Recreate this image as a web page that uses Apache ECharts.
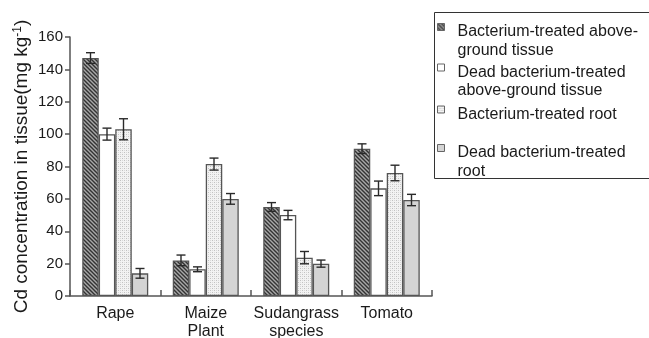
<!DOCTYPE html>
<html>
<head>
<meta charset="utf-8">
<script src="https://cdn.jsdelivr.net/npm/echarts@6/dist/echarts.min.js"></script>
<style>
html,body{margin:0;padding:0;background:#fff;}
#chart{width:649px;height:338px;}
</style>
</head>
<body>
<div id="chart"></div>
<script>
// ---- data ----
var categories = ['Rape', 'Maize\nPlant', 'Sudangrass\nspecies', 'Tomato'];
var seriesNames = [
  'Bacterium-treated above-ground tissue',
  'Dead bacterium-treated above-ground tissue',
  'Bacterium-treated root',
  'Dead bacterium-treated root'
];
var legendLines = [
  ['Bacterium-treated above-', 'ground tissue'],
  ['Dead bacterium-treated', 'above-ground tissue'],
  ['Bacterium-treated root'],
  ['Dead bacterium-treated', 'root']
];
var bactAbove = [147, 22, 55, 91];
var deadAbove = [100, 16.5, 50, 66.5];
var bactRoot = [103, 81.5, 23.7, 76];
var deadRoot = [14, 60, 20, 59.3];
var errBactAbove = [3.3, 3.3, 2.7, 3];
var errDeadAbove = [3.7, 1.5, 2.9, 4.5];
var errBactRoot = [6.5, 3.7, 3.8, 4.8];
var errDeadRoot = [3, 3.3, 2.2, 3.5];
var yTicks = [0, 20, 40, 60, 80, 100, 120, 140, 160];

var FONT = 'Liberation Sans, Arial, sans-serif';

// ---- patterns ----
function hatchPattern() {
  var c = document.createElement('canvas');
  c.width = 4; c.height = 4;
  var g = c.getContext('2d');
  g.fillStyle = '#a8a8a8'; g.fillRect(0, 0, 4, 4);
  g.strokeStyle = '#333'; g.lineWidth = 1.4;
  g.beginPath();
  g.moveTo(-1, -1); g.lineTo(5, 5);
  g.moveTo(-1, 3); g.lineTo(1, 5);
  g.moveTo(3, -1); g.lineTo(5, 1);
  g.stroke();
  return c;
}
function dotPattern() {
  var c = document.createElement('canvas');
  c.width = 4; c.height = 4;
  var g = c.getContext('2d');
  g.fillStyle = '#f3f3f3'; g.fillRect(0, 0, 4, 4);
  g.fillStyle = '#c2c2c2';
  g.fillRect(0, 0, 1, 1); g.fillRect(2, 2, 1, 1);
  g.fillStyle = '#dadada';
  g.fillRect(2, 0, 1, 1); g.fillRect(0, 2, 1, 1);
  return c;
}
var fills = [
  {image: hatchPattern(), repeat: 'repeat'},
  '#ffffff',
  {image: dotPattern(), repeat: 'repeat'},
  '#d4d4d4'
];
var values = [bactAbove, deadAbove, bactRoot, deadRoot];
var errors = [errBactAbove, errDeadAbove, errBactRoot, errDeadRoot];
var BAR_W = 16.5;

var series = [];
values.forEach(function (vals, k) {
  series.push({
    type: 'bar',
    name: seriesNames[k],
    data: vals,
    barWidth: BAR_W,
    barGap: '0%',
    itemStyle: {color: fills[k], borderColor: '#555', borderWidth: 1.3},
    emphasis: {disabled: true},
    z: 2
  });
});
values.forEach(function (vals, k) {
  series.push({
    type: 'custom',
    name: 'err' + k,
    z: 5,
    silent: true,
    data: vals.map(function (v, i) { return [i, v, errors[k][i]]; }),
    encode: {x: 0, y: 1},
    renderItem: function (params, api) {
      var i = api.value(0), v = api.value(1), e = api.value(2);
      var hi = api.coord([i, v + e]);
      var lo = api.coord([i, v - e]);
      var cx = hi[0] + (k - 1.5) * BAR_W;
      var hw = 4.5;
      var st = {stroke: '#2a2a2a', lineWidth: 1.4};
      return {
        type: 'group',
        children: [
          {type: 'line', shape: {x1: cx, y1: hi[1], x2: cx, y2: lo[1]}, style: st},
          {type: 'line', shape: {x1: cx - hw, y1: hi[1], x2: cx + hw, y2: hi[1]}, style: st},
          {type: 'line', shape: {x1: cx - hw, y1: lo[1], x2: cx + hw, y2: lo[1]}, style: st}
        ]
      };
    }
  });
});

// legend: line 1 of each item sits a little below its icon, as in the source
var LH = 18.5;            // legend line height
var ICON_OFF = 5;         // line-1 centre below icon centre
var line1Centers = [32, 72.5, 114.5, 153];
var legends = seriesNames.map(function (n, k) {
  var lines = legendLines[k];
  var extra = (lines.length - 1) * LH;
  var gap = extra + 2 * ICON_OFF;
  var top = line1Centers[k] - (gap + LH / 2);
  var txt = '{g| }\n' + lines.map(function (s) { return '{t|' + s + '}'; }).join('\n');
  return {
    data: [{name: n, icon: 'rect'}],
    orient: 'vertical',
    left: 437,
    top: top,
    padding: 0,
    itemWidth: 7,
    itemHeight: 7,
    selectedMode: false,
    formatter: function () { return txt; },
    textStyle: {
      fontFamily: FONT,
      fontSize: 16,
      color: '#1a1a1a',
      rich: {
        g: {fontSize: 2, lineHeight: gap, height: gap},
        t: {fontSize: 16, lineHeight: LH, fontFamily: FONT, color: '#1a1a1a', padding: [0, 0, 0, 8]}
      }
    },
    itemStyle: {borderColor: '#666', borderWidth: 1}
  };
});

var chart = echarts.init(document.getElementById('chart'), null, {renderer: 'canvas'});
chart.setOption({
  animation: false,
  backgroundColor: '#ffffff',
  textStyle: {fontFamily: FONT},
  grid: {left: 70, right: 217, top: 37, bottom: 42, containLabel: false, outerBoundsMode: 'none'},
  legend: legends,
  graphic: [{
    type: 'rect',
    shape: {x: 434.5, y: 12.5, width: 400, height: 166},
    style: {fill: 'none', stroke: '#333', lineWidth: 1},
    silent: true
  }],
  xAxis: {
    type: 'category',
    data: categories,
    axisLine: {show: true, lineStyle: {color: '#555', width: 1.5}},
    axisTick: {show: true, inside: true, length: 6, interval: 0, lineStyle: {color: '#555', width: 1.5}},
    axisLabel: {
      interval: 0, margin: 9, fontSize: 16, lineHeight: 18,
      color: '#1a1a1a', fontFamily: FONT
    },
    splitLine: {show: false}
  },
  yAxis: {
    type: 'value',
    min: yTicks[0],
    max: yTicks[yTicks.length - 1],
    interval: 20,
    name: 'Cd concentration in tissue(mg kg{sup|-1})',
    nameLocation: 'middle',
    nameGap: 39,
    nameMoveOverlap: false,
    nameTextStyle: {
      fontSize: 19, color: '#1a1a1a', fontFamily: FONT,
      rich: {sup: {fontSize: 12, verticalAlign: 'top', lineHeight: 12, color: '#1a1a1a', fontFamily: FONT}}
    },
    axisLine: {show: true, lineStyle: {color: '#555', width: 1.5}},
    axisTick: {show: true, inside: false, length: 5, lineStyle: {color: '#555', width: 1.5}},
    axisLabel: {margin: 7, fontSize: 15, color: '#1a1a1a', fontFamily: FONT},
    splitLine: {show: false}
  },
  series: series
});
</script>
</body>
</html>
